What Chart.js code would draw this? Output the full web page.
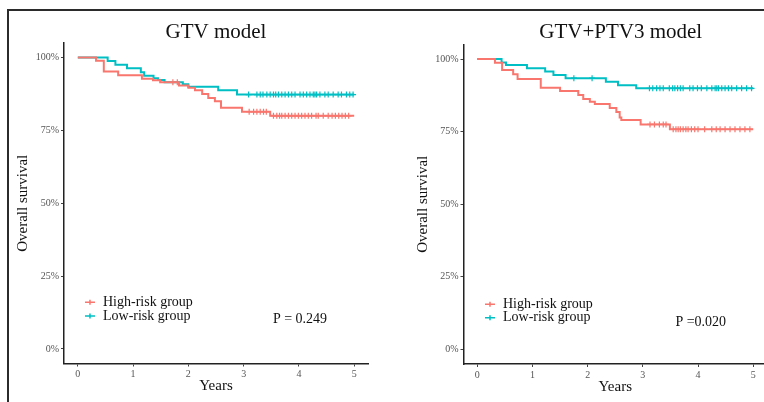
<!DOCTYPE html>
<html>
<head>
<meta charset="utf-8">
<script src="https://cdn.jsdelivr.net/npm/chart.js@4.4.1/dist/chart.umd.min.js"></script>
<style>
  html, body { margin: 0; padding: 0; background: #fff; }
  #page { position: relative; width: 764px; height: 402px; overflow: hidden; background: #fff; }
  #frame { position: absolute; left: 7px; top: 9px; width: 800px; height: 500px; border-left: 2px solid #2b2b2b; border-top: 2px solid #2b2b2b; }
  #left { position: absolute; left: 9px; top: 11px; }
  #right { position: absolute; left: 385px; top: 11px; }
</style>
</head>
<body>
<div id="page">
  <div id="frame"></div>
  <canvas id="left" width="374" height="391"></canvas>
  <canvas id="right" width="399" height="391"></canvas>
</div>
<script>
// tick labels
const xTicks = [0, 1, 2, 3, 4, 5];
const yTicks = [0, 25, 50, 75, 100];
const groupNames = ['High-risk group', 'Low-risk group'];

// GTV model - step times (years) and survival (%)
const gtvHighT = [0, 0.33, 0.47, 0.73, 1.16, 1.36, 1.49, 1.83, 2.0, 2.12, 2.25, 2.36, 2.48, 2.59, 2.97, 3.48, 5.0];
const gtvHighS = [100, 98.9, 95.2, 93.9, 92.7, 92.2, 91.5, 90.4, 89.6, 88.8, 87.5, 86.1, 85.0, 82.8, 81.4, 80.0, 80.0];
const gtvLowT = [0, 0.54, 0.68, 0.89, 1.14, 1.2, 1.37, 1.45, 1.57, 1.9, 2.0, 2.54, 2.88, 5.0];
const gtvLowS = [100, 98.8, 97.5, 96.3, 95.0, 93.8, 92.9, 92.3, 91.5, 90.8, 90.0, 88.8, 87.3, 87.3];
// censored times
const gtvHighCens = [1.72, 1.80, 3.10, 3.18, 3.24, 3.30, 3.36, 3.41, 3.54, 3.60, 3.65, 3.69, 3.75, 3.81, 3.87, 3.93, 3.99, 4.05, 4.11, 4.17, 4.23, 4.31, 4.35, 4.44, 4.53, 4.60, 4.66, 4.72, 4.78, 4.84, 4.90];
const gtvLowCens = [3.09, 3.24, 3.30, 3.35, 3.42, 3.48, 3.54, 3.58, 3.63, 3.69, 3.75, 3.81, 3.87, 3.93, 4.02, 4.08, 4.14, 4.20, 4.26, 4.29, 4.32, 4.38, 4.47, 4.53, 4.62, 4.71, 4.77, 4.86, 4.92, 4.98];

// GTV+PTV3 model
const ptvHighT = [0, 0.32, 0.45, 0.65, 0.73, 1.15, 1.50, 1.83, 1.92, 2.04, 2.13, 2.40, 2.52, 2.58, 2.61, 2.96, 3.49, 5.0];
const ptvHighS = [100, 98.7, 96.2, 94.8, 93.1, 90.1, 89.0, 87.6, 86.2, 85.3, 84.5, 83.1, 81.8, 79.9, 79.0, 77.5, 75.8, 75.8];
const ptvLowT = [0, 0.44, 0.52, 0.90, 1.23, 1.38, 1.60, 2.33, 2.55, 2.88, 5.0];
const ptvLowS = [100, 98.8, 97.9, 96.8, 95.7, 94.5, 93.4, 92.2, 91.0, 89.9, 89.9];
const ptvHighCens = [3.13, 3.21, 3.30, 3.37, 3.42, 3.55, 3.60, 3.64, 3.68, 3.73, 3.78, 3.82, 3.88, 3.94, 4.00, 4.12, 4.25, 4.33, 4.40, 4.49, 4.58, 4.67, 4.76, 4.85, 4.94];
const ptvLowCens = [1.75, 2.08, 3.12, 3.18, 3.25, 3.31, 3.37, 3.48, 3.54, 3.58, 3.63, 3.68, 3.73, 3.85, 3.91, 3.99, 4.06, 4.16, 4.25, 4.31, 4.34, 4.37, 4.43, 4.49, 4.55, 4.61, 4.70, 4.79, 4.88, 4.97];

const RED = '#F8766D';
const TEAL = '#00BFC4';
const SERIF = '"Liberation Serif", "Times New Roman", serif';

// survival level of a step curve at time t
function survAt(ts, ss, t) {
  let v = ss[0];
  for (let i = 0; i < ts.length; i++) { if (ts[i] <= t) v = ss[i]; }
  return v;
}

function curveSets(ts, ss, cens, color) {
  return [
    {
      data: ts.map((t, i) => ({ x: t, y: ss[i] })),
      borderColor: color, borderWidth: 2, stepped: 'before',
      pointRadius: 0, fill: false
    },
    {
      data: cens.map(t => ({ x: t, y: survAt(ts, ss, t) })),
      showLine: false, pointStyle: 'cross', pointRadius: 3,
      pointBorderWidth: 1.2, pointBorderColor: color, borderColor: color
    }
  ];
}

const decor = {
  id: 'decor',
  afterDraw(chart, args, o) {
    const { ctx, scales } = chart;
    const x = scales.x, y = scales.y;
    ctx.save();
    ctx.fillStyle = '#111';
    ctx.textBaseline = 'middle';
    // panel title
    ctx.font = '21px ' + SERIF;
    ctx.textAlign = 'center';
    ctx.fillText(o.title, o.titleX, o.titleY);
    // legend keys
    const lx = x.getPixelForValue(o.legX);
    [RED, TEAL].forEach((c, i) => {
      const ly = y.getPixelForValue(o.legY[i]);
      ctx.strokeStyle = c;
      ctx.lineWidth = 1.5;
      ctx.beginPath();
      ctx.moveTo(lx - 5, ly); ctx.lineTo(lx + 5, ly);
      ctx.moveTo(lx, ly - 2.5); ctx.lineTo(lx, ly + 2.5);
      ctx.stroke();
      ctx.font = '14px ' + SERIF;
      ctx.textAlign = 'left';
      ctx.fillText(groupNames[i], lx + 13, ly);
    });
    // p value
    ctx.font = '14px ' + SERIF;
    ctx.textAlign = 'center';
    ctx.fillText(o.pText, x.getPixelForValue(o.pX), y.getPixelForValue(o.pY));
    ctx.restore();
  }
};

function makeChart(id, g, sets, d) {
  return new Chart(document.getElementById(id), {
    type: 'line',
    data: { datasets: sets },
    plugins: [decor],
    options: {
      responsive: false, animation: false, devicePixelRatio: 1,
      layout: { padding: { left: 0, top: g.top, right: g.right, bottom: 0 } },
      plugins: { legend: { display: false }, tooltip: { enabled: false }, decor: d },
      scales: {
        x: {
          type: 'linear', min: -0.25, max: 5.25,
          afterBuildTicks: s => { s.ticks = xTicks.map(v => ({ value: v })); },
          afterFit: s => { s.height = g.xh; },
          border: { display: true, color: '#222', width: 1.5 },
          grid: { display: true, drawOnChartArea: false, drawTicks: true, tickLength: 3, color: '#444' },
          ticks: { color: '#555', font: { family: SERIF, size: 10 }, padding: 2, maxRotation: 0 },
          title: { display: true, text: 'Years', color: '#111', font: { family: SERIF, size: 15, lineHeight: 1.2 }, padding: { top: 0, bottom: g.xtp } }
        },
        y: {
          type: 'linear', min: -5, max: 105,
          afterBuildTicks: s => { s.ticks = yTicks.map(v => ({ value: v })); },
          afterFit: s => { s.width = g.yw; },
          border: { display: true, color: '#222', width: 1.5 },
          grid: { display: true, drawOnChartArea: false, drawTicks: true, tickLength: 3, color: '#444' },
          ticks: { color: '#555', font: { family: SERIF, size: 10 }, padding: 2, callback: v => v + '%' },
          title: { display: true, text: 'Overall survival', color: '#111', font: { family: SERIF, size: 15, lineHeight: 1.2 }, padding: { top: g.ytp, bottom: 0 } }
        }
      }
    }
  });
}

makeChart('left',
  { top: 32, right: 15, xh: 38.5, yw: 55, xtp: 6.5, ytp: 5 },
  [...curveSets(gtvHighT, gtvHighS, gtvHighCens, RED), ...curveSets(gtvLowT, gtvLowS, gtvLowCens, TEAL)],
  { title: 'GTV model', titleX: 207, titleY: 21, legX: 0.22, legY: [16, 11.3], pText: 'P = 0.249', pX: 4.02, pY: 10.3 });

makeChart('right',
  { top: 33.5, right: 17, xh: 38, yw: 78.5, xtp: 6, ytp: 29 },
  [...curveSets(ptvHighT, ptvHighS, ptvHighCens, RED), ...curveSets(ptvLowT, ptvLowS, ptvLowCens, TEAL)],
  { title: 'GTV+PTV3 model', titleX: 235.7, titleY: 21, legX: 0.23, legY: [15.6, 10.9], pText: 'P =0.020', pX: 4.05, pY: 9.5 });
</script>
</body>
</html>
